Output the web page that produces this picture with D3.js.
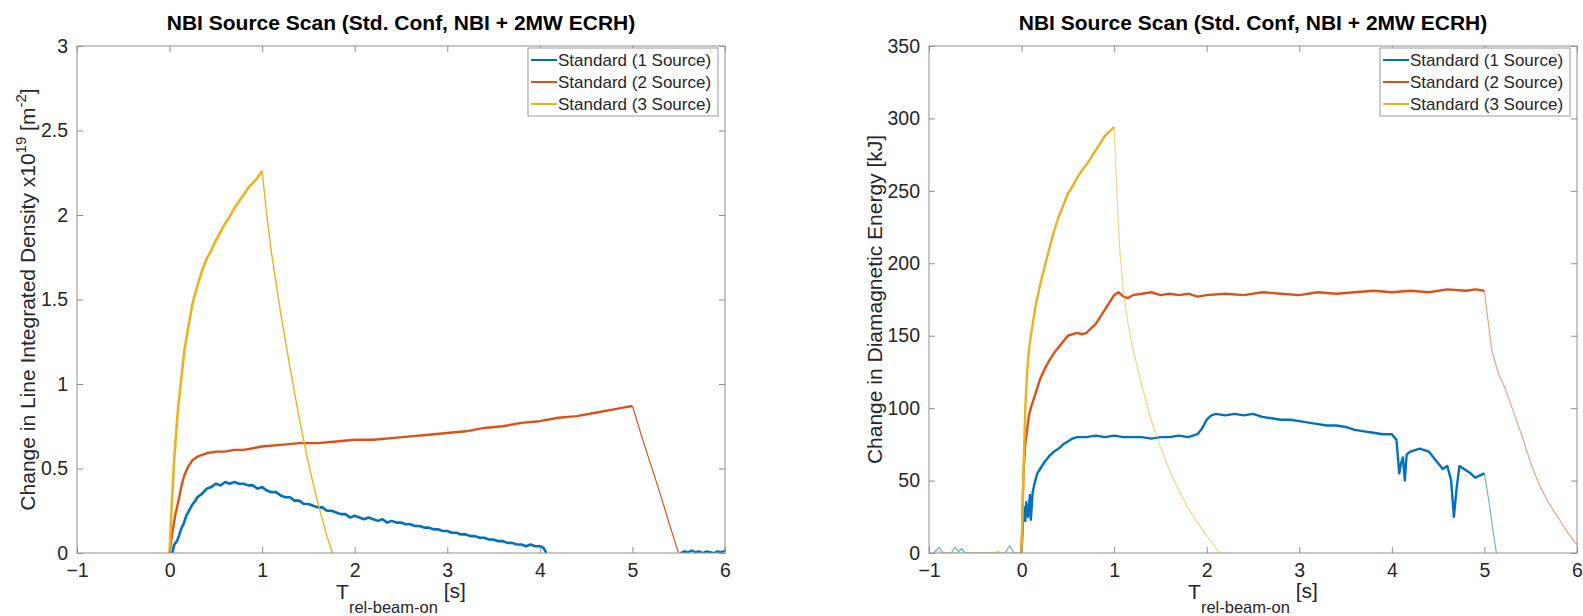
<!DOCTYPE html>
<html>
<head>
<meta charset="utf-8">
<script src="https://cdn.jsdelivr.net/npm/d3@7"></script>
<style>
  html, body { margin: 0; padding: 0; background: #fff; }
  svg { display: block; font-family: "Liberation Sans", Arial, Helvetica, sans-serif; }
</style>
</head>
<body>
<svg id="chart" width="1583" height="616"></svg>
<script>
// ---- Shared axis data ----
const xTicks = [-1, 0, 1, 2, 3, 4, 5, 6];
const densityTicks = [0, 0.5, 1, 1.5, 2, 2.5, 3];
const energyTicks = [0, 50, 100, 150, 200, 250, 300, 350];
const seriesNames = ["Standard (1 Source)", "Standard (2 Source)", "Standard (3 Source)"];
const seriesColors = ["#0072BD", "#D95319", "#EDB120"];
const titleText = "NBI Source Scan (Std. Conf, NBI + 2MW ECRH)";

// ---- Line integrated density change [1e19 m^-2] vs time [s] ----
const density1On = [[0.03,0.00],[0.05,0.05],[0.08,0.07],[0.10,0.10],[0.13,0.15],[0.15,0.17],[0.18,0.22],[0.20,0.24],[0.23,0.27],[0.25,0.29],[0.28,0.31],[0.30,0.33],[0.35,0.35],[0.40,0.38],[0.45,0.39],[0.50,0.41],[0.55,0.40],[0.60,0.42],[0.65,0.41],[0.70,0.42],[0.75,0.41],[0.80,0.41],[0.85,0.40],[0.90,0.40],[0.95,0.38],[1.00,0.39],[1.05,0.37],[1.10,0.36],[1.15,0.36],[1.20,0.34],[1.25,0.33],[1.30,0.33],[1.35,0.31],[1.40,0.31],[1.45,0.29],[1.50,0.29],[1.55,0.28],[1.60,0.27],[1.65,0.27],[1.70,0.25],[1.75,0.25],[1.80,0.24],[1.85,0.23],[1.90,0.23],[1.95,0.21],[2.00,0.22],[2.05,0.21],[2.10,0.20],[2.15,0.21],[2.20,0.20],[2.25,0.19],[2.30,0.20],[2.35,0.18],[2.40,0.19],[2.45,0.18],[2.50,0.18],[2.55,0.17],[2.60,0.17],[2.65,0.16],[2.70,0.16],[2.75,0.15],[2.80,0.15],[2.85,0.14],[2.90,0.14],[2.95,0.13],[3.00,0.13],[3.05,0.12],[3.10,0.12],[3.15,0.11],[3.20,0.11],[3.25,0.10],[3.30,0.10],[3.35,0.09],[3.40,0.09],[3.45,0.08],[3.50,0.08],[3.55,0.07],[3.60,0.07],[3.65,0.06],[3.70,0.06],[3.75,0.05],[3.80,0.05],[3.85,0.04],[3.90,0.05],[3.95,0.04],[4.00,0.04],[4.04,0.03],[4.07,0.00]];
const density1Late = [[5.52,0.00],[5.56,0.01],[5.60,0.005],[5.64,0.015],[5.68,0.005],[5.72,0.01],[5.76,0.00],[5.80,0.01],[5.84,0.005],[5.88,0.00],[5.92,0.01],[5.96,0.005],[6.00,0.015]];
const density2On = [[0.00,0.00],[0.03,0.12],[0.06,0.22],[0.10,0.32],[0.13,0.40],[0.16,0.46],[0.20,0.51],[0.25,0.55],[0.30,0.57],[0.40,0.59],[0.50,0.60],[0.60,0.60],[0.70,0.61],[0.80,0.61],[0.90,0.62],[1.00,0.63],[1.20,0.64],[1.40,0.65],[1.60,0.65],[1.80,0.66],[2.00,0.67],[2.20,0.67],[2.40,0.68],[2.60,0.69],[2.80,0.70],[3.00,0.71],[3.20,0.72],[3.40,0.74],[3.60,0.75],[3.80,0.77],[4.00,0.78],[4.20,0.80],[4.40,0.81],[4.60,0.83],[4.80,0.85],[4.90,0.86],[5.00,0.87]];
const density2Off = [[5.00,0.87],[5.10,0.69],[5.20,0.52],[5.30,0.35],[5.40,0.17],[5.48,0.03],[5.50,0.00]];
const density3On = [[0.00,0.00],[0.02,0.25],[0.05,0.55],[0.08,0.78],[0.10,0.90],[0.13,1.05],[0.16,1.20],[0.20,1.33],[0.25,1.48],[0.30,1.58],[0.35,1.67],[0.40,1.74],[0.45,1.79],[0.50,1.85],[0.55,1.90],[0.60,1.95],[0.65,1.99],[0.70,2.04],[0.75,2.08],[0.80,2.12],[0.85,2.16],[0.90,2.19],[0.95,2.22],[1.00,2.26]];
const density3Off = [[1.00,2.26],[1.05,2.00],[1.10,1.78],[1.20,1.42],[1.30,1.10],[1.40,0.80],[1.50,0.53],[1.60,0.30],[1.70,0.10],[1.76,0.00]];

// ---- Diamagnetic energy change [kJ] vs time [s] ----
const energy1Pre = [[-0.95,0],[-0.89,4],[-0.85,0],[-0.76,0],[-0.72,4],[-0.68,1],[-0.65,3],[-0.61,0],[-0.18,0],[-0.13,5],[-0.08,0],[0.00,0]];
const energy1On = [[0.00,0],[0.02,32],[0.04,22],[0.05,35],[0.07,25],[0.09,40],[0.10,23],[0.12,42],[0.14,48],[0.17,55],[0.20,58],[0.25,63],[0.30,67],[0.35,70],[0.40,72],[0.45,75],[0.50,77],[0.55,79],[0.60,80],[0.70,80],[0.80,81],[0.90,80],[1.00,81],[1.10,80],[1.20,80],[1.30,80],[1.40,79],[1.50,80],[1.60,80],[1.70,81],[1.80,80],[1.90,82],[1.95,86],[2.00,92],[2.05,95],[2.10,96],[2.20,95],[2.30,96],[2.40,95],[2.50,96],[2.60,94],[2.70,93],[2.80,92],[2.90,92],[3.00,91],[3.10,90],[3.20,89],[3.30,88],[3.40,88],[3.50,87],[3.60,85],[3.70,84],[3.80,83],[3.90,82],[4.00,82],[4.05,78],[4.08,55],[4.10,62],[4.12,66],[4.14,50],[4.16,68],[4.20,70],[4.30,72],[4.40,70],[4.45,66],[4.50,62],[4.55,58],[4.60,60],[4.64,50],[4.67,25],[4.70,45],[4.73,60],[4.78,58],[4.85,55],[4.90,52],[5.00,55]];
const energy1Off = [[5.00,55],[5.05,35],[5.10,12],[5.13,0]];
const energy2On = [[0.00,0],[0.02,55],[0.04,75],[0.06,85],[0.08,95],[0.10,100],[0.15,110],[0.20,120],[0.25,127],[0.30,133],[0.35,138],[0.40,142],[0.45,146],[0.50,150],[0.55,151],[0.60,152],[0.65,151],[0.70,152],[0.75,155],[0.80,158],[0.85,163],[0.90,168],[0.95,173],[1.00,178],[1.05,180],[1.10,177],[1.15,176],[1.20,178],[1.30,179],[1.40,180],[1.50,178],[1.60,179],[1.70,178],[1.80,179],[1.90,177],[2.00,178],[2.20,179],[2.40,178],[2.60,180],[2.80,179],[3.00,178],[3.20,180],[3.40,179],[3.60,180],[3.80,181],[4.00,180],[4.20,181],[4.40,180],[4.60,182],[4.80,181],[4.90,182],[5.00,181]];
const energy2Off = [[5.00,181],[5.03,165],[5.08,140],[5.15,124],[5.22,114],[5.30,100],[5.40,82],[5.50,62],[5.60,46],[5.70,34],[5.80,24],[5.90,14],[5.97,8],[6.00,6]];
const energy3Pre = [[-0.95,0],[-0.90,1.5],[-0.86,0],[-0.30,0],[-0.26,1.5],[-0.22,0],[0.00,0]];
const energy3On = [[0.00,0],[0.02,55],[0.04,100],[0.06,125],[0.08,140],[0.10,150],[0.15,170],[0.20,185],[0.25,198],[0.30,210],[0.35,222],[0.40,232],[0.45,240],[0.50,248],[0.55,253],[0.60,259],[0.65,264],[0.70,268],[0.75,273],[0.80,278],[0.85,283],[0.90,288],[0.95,291],[1.00,294]];
const energy3Off = [[1.00,294],[1.02,265],[1.04,235],[1.06,210],[1.10,180],[1.15,158],[1.20,142],[1.30,115],[1.40,92],[1.50,73],[1.60,57],[1.70,43],[1.80,31],[1.90,21],[2.00,12],[2.08,5],[2.14,0]];

const svg = d3.select("#chart");
svg.append("rect").attr("width", 1583).attr("height", 616).attr("fill", "#fff");

const AX_COLOR = "#8f8f8f";
const TXT_COLOR = "#262626";
const TICK_FONT = 19.5;
const LABEL_FONT = 21;

function drawPanel(opts) {
  const { left, right, top, bottom, yDomain, yTicks, yFormat, segments, id } = opts;
  const x = d3.scaleLinear().domain([-1, 6]).range([left, right]);
  const y = d3.scaleLinear().domain(yDomain).range([bottom, top]);
  const g = svg.append("g");

  g.append("defs").append("clipPath").attr("id", id)
    .append("rect").attr("x", left).attr("y", top - 1)
    .attr("width", right - left).attr("height", bottom - top + 1);

  const line = d3.line().x(d => x(d[0])).y(d => y(d[1]));
  const plot = g.append("g").attr("clip-path", `url(#${id})`);
  segments.forEach(s => {
    plot.append("path").datum(s.data)
      .attr("d", line)
      .attr("fill", "none")
      .attr("stroke", s.color)
      .attr("stroke-opacity", s.opacity == null ? 1 : s.opacity)
      .attr("stroke-width", s.width)
      .attr("stroke-linejoin", "round");
  });

  // axes with inward ticks on all four sides
  const style = sel => {
    sel.select(".domain").remove();
    sel.selectAll(".tick line").attr("stroke", AX_COLOR);
    sel.selectAll(".tick text").attr("fill", TXT_COLOR).attr("font-size", TICK_FONT);
  };
  g.append("g").attr("transform", `translate(0,${bottom})`)
    .call(d3.axisBottom(x).tickValues(xTicks).tickSizeInner(-6).tickSizeOuter(0).tickPadding(10).tickFormat(d3.format("d")))
    .call(style);
  g.append("g").attr("transform", `translate(0,${top})`)
    .call(d3.axisTop(x).tickValues(xTicks).tickSizeInner(-6).tickSizeOuter(0).tickFormat(""))
    .call(style);
  g.append("g").attr("transform", `translate(${left},0)`)
    .call(d3.axisLeft(y).tickValues(yTicks).tickSizeInner(-6).tickSizeOuter(0).tickPadding(9).tickFormat(yFormat))
    .call(style);
  g.append("g").attr("transform", `translate(${right},0)`)
    .call(d3.axisRight(y).tickValues(yTicks).tickSizeInner(-6).tickSizeOuter(0).tickFormat(""))
    .call(style);
  g.selectAll(".tick text").attr("font-family", null);

  g.append("rect").attr("x", left).attr("y", top)
    .attr("width", right - left).attr("height", bottom - top)
    .attr("fill", "none").attr("stroke", AX_COLOR).attr("stroke-width", 1);

  // title
  g.append("text").attr("x", (left + right) / 2).attr("y", 30)
    .attr("text-anchor", "middle").attr("font-weight", "bold")
    .attr("font-size", 21).attr("fill", "#000").text(titleText);

  // x label with subscript
  const xl = g.append("text").attr("x", (left + right) / 2).attr("y", 599)
    .attr("text-anchor", "middle").attr("fill", TXT_COLOR).attr("font-size", LABEL_FONT);
  xl.append("tspan").text("T");
  xl.append("tspan").attr("font-size", 16.5).attr("dy", 14).text("rel-beam-on");
  xl.append("tspan").attr("dy", -15).text(" [s]");

  // y label
  const yl = g.append("text")
    .attr("transform", `translate(${opts.yLabelX},${(top + bottom) / 2}) rotate(-90)`)
    .attr("text-anchor", "middle").attr("fill", TXT_COLOR).attr("font-size", LABEL_FONT);
  opts.yLabel(yl);

  // legend
  const lg = g.append("g");
  const lx = right - 197, ly = top + 2, lw = 190, lh = 68;
  lg.append("rect").attr("x", lx).attr("y", ly).attr("width", lw).attr("height", lh)
    .attr("fill", "#fff").attr("stroke", "#9a9a9a").attr("stroke-width", 1);
  seriesNames.forEach((name, i) => {
    const ry = ly + 12 + i * 22;
    lg.append("line").attr("x1", lx + 3).attr("x2", lx + 29).attr("y1", ry).attr("y2", ry)
      .attr("stroke", seriesColors[i]).attr("stroke-width", 2);
    lg.append("text").attr("x", lx + 30).attr("y", ry + 6)
      .attr("font-size", 17).attr("fill", TXT_COLOR).text(name);
  });
}

drawPanel({
  id: "clipDensity",
  left: 77, right: 725, top: 46, bottom: 553,
  yDomain: [0, 3], yTicks: densityTicks, yFormat: d3.format("~g"),
  yLabelX: 35,
  yLabel: t => {
    t.append("tspan").text("Change in Line Integrated Density x10");
    t.append("tspan").attr("font-size", 15).attr("dy", -9).text("19");
    t.append("tspan").attr("dy", 9).text(" [m");
    t.append("tspan").attr("font-size", 15).attr("dy", -9).text("-2");
    t.append("tspan").attr("dy", 9).text("]");
  },
  segments: [
    { data: density1On, color: seriesColors[0], width: 2.6 },
    { data: density1Late, color: seriesColors[0], width: 2.2 },
    { data: density2On, color: seriesColors[1], width: 2.4 },
    { data: density2Off, color: seriesColors[1], width: 1.2 },
    { data: density3On, color: seriesColors[2], width: 2.6 },
    { data: density3Off, color: seriesColors[2], width: 1.4 }
  ]
});

drawPanel({
  id: "clipEnergy",
  left: 929, right: 1577, top: 46, bottom: 553,
  yDomain: [0, 350], yTicks: energyTicks, yFormat: d3.format("d"),
  yLabelX: 882,
  yLabel: t => t.text("Change in Diamagnetic Energy [kJ]"),
  segments: [
    { data: energy1Pre, color: seriesColors[0], width: 1.2, opacity: 0.6 },
    { data: energy3Pre, color: seriesColors[2], width: 1.2, opacity: 0.6 },
    { data: energy1On, color: seriesColors[0], width: 2.4 },
    { data: energy1Off, color: seriesColors[0], width: 1.2, opacity: 0.55 },
    { data: energy2On, color: seriesColors[1], width: 2.4 },
    { data: energy2Off, color: seriesColors[1], width: 1.2, opacity: 0.55 },
    { data: energy3On, color: seriesColors[2], width: 2.4 },
    { data: energy3Off, color: seriesColors[2], width: 1.2, opacity: 0.55 }
  ]
});
</script>
</body>
</html>
